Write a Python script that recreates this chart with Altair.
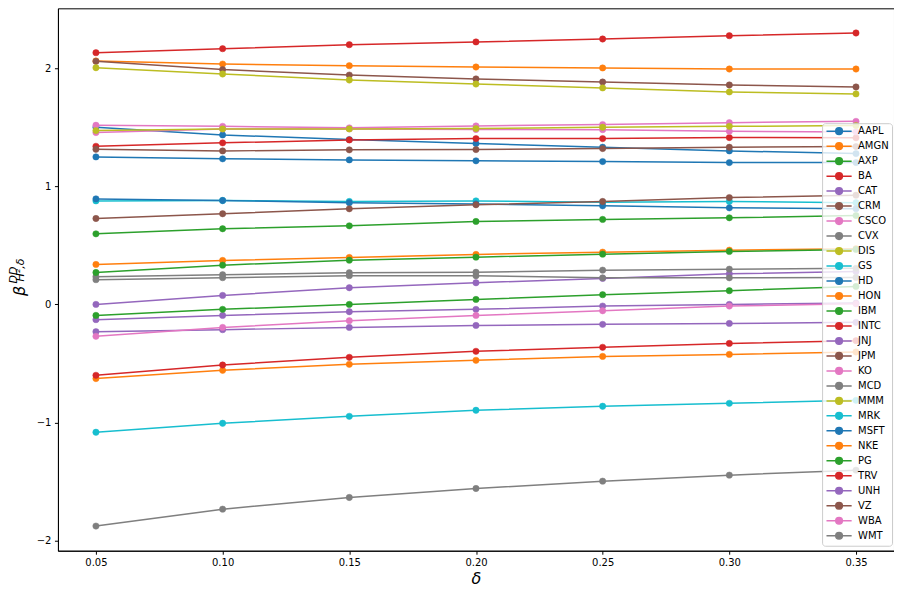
import altair as alt
import pandas as pd

deltas = [0.05, 0.10, 0.15, 0.20, 0.25, 0.30, 0.35]

tickers = ["AAPL", "AMGN", "AXP", "BA", "CAT", "CRM", "CSCO", "CVX", "DIS", "GS",
           "HD", "HON", "IBM", "INTC", "JNJ", "JPM", "KO", "MCD", "MMM", "MRK",
           "MSFT", "NKE", "PG", "TRV", "UNH", "VZ", "WBA", "WMT"]

AAPL = [1.499, 1.434, 1.395, 1.361, 1.330, 1.299, 1.276]
AMGN = [2.060, 2.034, 2.020, 2.009, 2.001, 1.992, 1.992]
AXP = [0.597, 0.640, 0.665, 0.702, 0.719, 0.733, 0.752]
BA = [2.130, 2.164, 2.198, 2.221, 2.246, 2.274, 2.297]
CAT = [0.000, 0.076, 0.141, 0.183, 0.220, 0.259, 0.279]
CRM = [2.057, 1.987, 1.941, 1.908, 1.882, 1.857, 1.840]
CSCO = [1.516, 1.507, 1.494, 1.510, 1.522, 1.538, 1.549]
CVX = [0.234, 0.251, 0.268, 0.272, 0.290, 0.298, 0.305]
DIS = [2.003, 1.950, 1.899, 1.865, 1.832, 1.798, 1.781]
GS = [0.876, 0.879, 0.871, 0.876, 0.865, 0.871, 0.860]
HD = [1.248, 1.232, 1.223, 1.215, 1.209, 1.200, 1.200]
HON = [0.338, 0.372, 0.397, 0.423, 0.442, 0.459, 0.471]
IBM = [0.270, 0.332, 0.374, 0.400, 0.425, 0.448, 0.465]
INTC = [1.338, 1.367, 1.392, 1.403, 1.403, 1.412, 1.410]
JNJ = [-0.129, -0.093, -0.062, -0.042, -0.014, 0.000, 0.011]
JPM = [1.313, 1.299, 1.308, 1.310, 1.319, 1.330, 1.336]
KO = [1.454, 1.485, 1.485, 1.480, 1.479, 1.465, 1.460]
MCD = [0.209, 0.226, 0.243, 0.242, 0.225, 0.225, 0.228]
MMM = [1.471, 1.485, 1.485, 1.488, 1.499, 1.507, 1.513]
MRK = [-1.082, -1.006, -0.947, -0.896, -0.862, -0.837, -0.812]
MSFT = [0.893, 0.879, 0.860, 0.850, 0.834, 0.817, 0.810]
NKE = [-0.628, -0.558, -0.507, -0.473, -0.440, -0.423, -0.403]
PG = [-0.093, -0.042, 0.000, 0.042, 0.082, 0.116, 0.152]
TRV = [-0.600, -0.513, -0.448, -0.397, -0.363, -0.330, -0.307]
UNH = [-0.231, -0.214, -0.195, -0.178, -0.169, -0.161, -0.152]
VZ = [0.727, 0.767, 0.809, 0.843, 0.871, 0.904, 0.924]
WBA = [-0.270, -0.195, -0.138, -0.093, -0.054, -0.014, 0.005]
WMT = [-1.876, -1.733, -1.634, -1.558, -1.496, -1.445, -1.403]

series = [AAPL, AMGN, AXP, BA, CAT, CRM, CSCO, CVX, DIS, GS,
          HD, HON, IBM, INTC, JNJ, JPM, KO, MCD, MMM, MRK,
          MSFT, NKE, PG, TRV, UNH, VZ, WBA, WMT]

tab10 = ["#1f77b4", "#ff7f0e", "#2ca02c", "#d62728", "#9467bd",
         "#8c564b", "#e377c2", "#7f7f7f", "#bcbd22", "#17becf"]
colors = [tab10[i % 10] for i in range(len(tickers))]

x_ticks = [0.05, 0.10, 0.15, 0.20, 0.25, 0.30, 0.35]
y_ticks = [-2, -1, 0, 1, 2]

rows = []
for name, vals in zip(tickers, series):
    for d, v in zip(deltas, vals):
        rows.append({"delta": d, "beta": v, "ticker": name})
df = pd.DataFrame(rows)

# matplotlib-like 5% margins
xmin, xmax = min(deltas), max(deltas)
ymin, ymax = df["beta"].min(), df["beta"].max()
xm = (xmax - xmin) * 0.05
ym = (ymax - ymin) * 0.05

xscale = alt.Scale(domain=[xmin - xm, xmax + xm], nice=False, zero=False)
yscale = alt.Scale(domain=[ymin - ym, ymax + ym], nice=False, zero=False)
cscale = alt.Scale(domain=tickers, range=colors)

xenc = alt.X("delta:Q", scale=xscale,
             axis=alt.Axis(values=x_ticks, format=".2f", title="δ",
                           titleFontSize=16, titleFontStyle="italic",
                           titleFontWeight="normal", titlePadding=3))
yenc = alt.Y("beta:Q", scale=yscale,
             axis=alt.Axis(values=y_ticks, format="d", title=None))

legend_path = ("M-3.6,0L3.6,0M-0.95,0A0.95,0.95,0,1,0,0.95,0"
               "A0.95,0.95,0,1,0,-0.95,0Z")
legend = alt.Legend(title=None, orient="none", legendX=765, legendY=115,
                    symbolType=legend_path, symbolSize=49, symbolStrokeWidth=1.5,
                    symbolOffset=9, labelOffset=14, labelFontSize=10,
                    labelFont="DejaVu Sans", labelColor="black",
                    padding=3, rowPadding=1, fillColor="rgba(255,255,255,0.8)",
                    strokeColor="#cccccc", cornerRadius=3, symbolOpacity=1,
                    labelLimit=0)

lines = alt.Chart(df).mark_line(strokeWidth=1.5).encode(
    x=xenc, y=yenc,
    stroke=alt.Stroke("ticker:N", scale=cscale, legend=legend),
    detail="ticker:N",
)

points = alt.Chart(df).mark_point(filled=True, size=40, opacity=1, strokeWidth=0.5).encode(
    x=xenc, y=yenc,
    fill=alt.Fill("ticker:N", scale=cscale, legend=legend),
    stroke=alt.Stroke("ticker:N", scale=cscale, legend=legend),
)

beta_txt = ["β"]
sup_txt = ["DD"]
sub_txt = ["H²,δ"]

t_beta = alt.Chart(pd.DataFrame({"t": beta_txt})).mark_text(
    angle=270, fontSize=16, fontStyle="italic", font="DejaVu Sans",
    align="center", baseline="middle", color="black"
).encode(x=alt.value(-38), y=alt.value(283), text="t:N")
t_sup = alt.Chart(pd.DataFrame({"t": sup_txt})).mark_text(
    angle=270, fontSize=11, fontStyle="italic", font="DejaVu Sans",
    align="center", baseline="middle", color="black"
).encode(x=alt.value(-44), y=alt.value(267), text="t:N")
t_sub = alt.Chart(pd.DataFrame({"t": sub_txt})).mark_text(
    angle=270, fontSize=11, fontStyle="italic", font="DejaVu Sans",
    align="center", baseline="middle", color="black"
).encode(x=alt.value(-37), y=alt.value(262), text="t:N")

chart = alt.layer(lines, points, t_beta, t_sup, t_sub).properties(
    width=837, height=543,
    autosize=alt.AutoSizeParams(type="none"),
    padding={"left": 50, "top": 0, "right": 0, "bottom": 40},
).configure(
    background="white"
).configure_view(
    stroke="black", strokeWidth=1
).configure_axis(
    grid=False, domainColor="black", tickColor="black", labelColor="black",
    titleColor="black", labelFont="DejaVu Sans", titleFont="DejaVu Sans",
    labelFontSize=10, tickSize=3.5, labelPadding=3.5, domainWidth=1
)

chart.save("out.html", embed_options={"renderer": "svg", "actions": False})
